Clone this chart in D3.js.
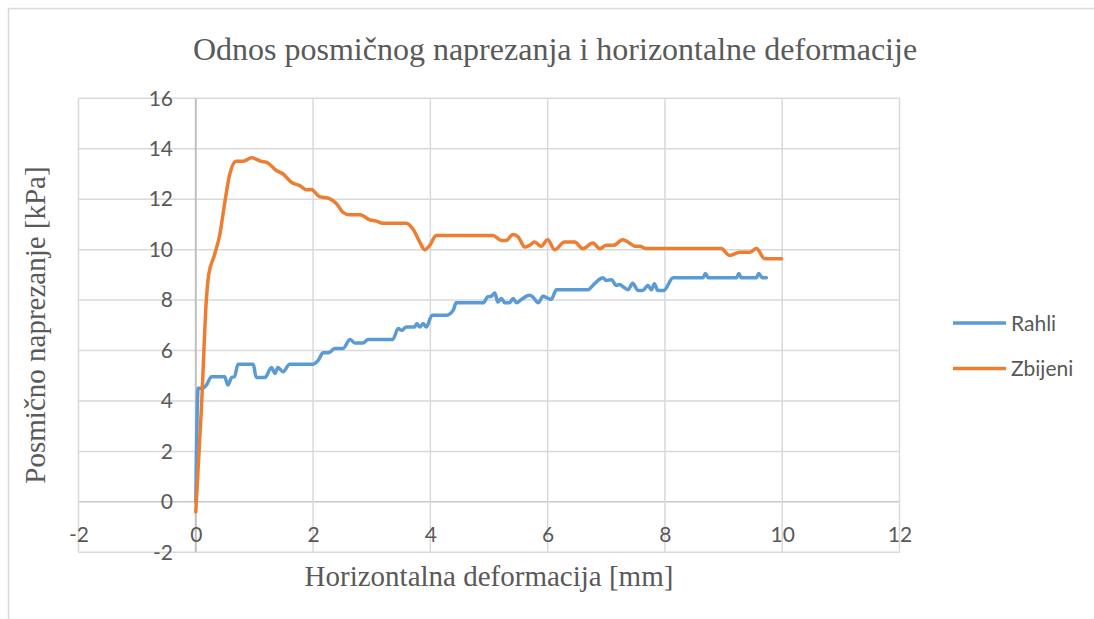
<!DOCTYPE html>
<meta charset="UTF-8">

<head>
    <title>Odnos posmičnog naprezanja i horizontalne deformacije</title>
</head>
<style>
    body {
        margin: 0;
        background: #fff;
    }

    .tick text {
        font-family: Lato, "Open Sans", sans-serif;
        font-size: 21px;
        fill: #595959;
    }

    .serif {
        font-family: "Liberation Serif", "DejaVu Serif", serif;
        fill: #595959;
    }

    .legend text {
        font-family: Lato, "Open Sans", sans-serif;
        font-size: 21px;
        fill: #595959;
    }
</style>

<body>
    <div id="chart"></div>

    <script src="https://d3js.org/d3.v7.min.js"></script>
    <script type="text/javascript">

        // 数据: Rahli (plavo)
        var rahliX = [0, 0.04, 0.12, 0.18, 0.27, 0.49, 0.55, 0.61, 0.66, 0.72, 0.98, 1.03, 1.18, 1.29, 1.35, 1.4, 1.49, 1.6,
            2.0, 2.09, 2.17, 2.26, 2.37, 2.51, 2.63, 2.71, 2.85, 2.94, 3.36, 3.45, 3.51, 3.59, 3.73, 3.77, 3.82, 3.88, 3.93,
            4.03, 4.27, 4.39, 4.44, 4.9, 4.98, 5.04, 5.1, 5.15, 5.21, 5.27, 5.35, 5.41, 5.47, 5.55, 5.69, 5.75, 5.84, 5.92,
            6.0, 6.06, 6.15, 6.69, 6.77, 6.86, 6.94, 7.0, 7.09, 7.17, 7.23, 7.28, 7.37, 7.45, 7.54, 7.62, 7.71, 7.77, 7.82,
            7.88, 7.98, 8.14, 8.65, 8.69, 8.74, 9.22, 9.26, 9.3, 9.56, 9.6, 9.66, 9.73];
        var rahliY = [0, 4.5, 4.5, 4.63, 4.96, 4.96, 4.63, 4.93, 4.96, 5.46, 5.46, 4.93, 4.93, 5.33, 5.09, 5.33, 5.16, 5.46,
            5.46, 5.62, 5.91, 5.91, 6.08, 6.08, 6.44, 6.3, 6.3, 6.44, 6.44, 6.87, 6.8, 6.93, 6.93, 7.07, 6.93, 7.07, 6.93,
            7.4, 7.4, 7.6, 7.89, 7.89, 8.13, 8.15, 8.28, 7.92, 8.06, 7.89, 7.89, 8.06, 7.89, 8.02, 8.19, 8.12, 7.89, 8.15,
            8.08, 8.03, 8.41, 8.41, 8.58, 8.78, 8.89, 8.78, 8.81, 8.58, 8.62, 8.54, 8.41, 8.67, 8.38, 8.38, 8.58, 8.41, 8.65,
            8.38, 8.38, 8.89, 8.89, 9.05, 8.89, 8.89, 9.05, 8.89, 8.89, 9.05, 8.89, 8.89];

        // 数据: Zbijeni (narančasto)
        var zbijeniX = [0, 0.1, 0.18, 0.22, 0.32, 0.41, 0.49, 0.58, 0.69, 0.81, 0.95, 1.12, 1.2, 1.38, 1.49, 1.63, 1.77, 1.89,
            1.97, 2.11, 2.26, 2.4, 2.51, 2.63, 2.8, 2.97, 3.08, 3.19, 3.59, 3.7, 3.82, 3.9, 3.99, 4.1, 5.07, 5.21, 5.29, 5.41,
            5.5, 5.61, 5.69, 5.78, 5.89, 6.0, 6.12, 6.29, 6.46, 6.6, 6.77, 6.89, 7.0, 7.12, 7.28, 7.51, 7.57, 7.68, 8.96, 9.1,
            9.28, 9.45, 9.56, 9.7, 9.99];
        var zbijeniY = [-0.4, 3.9, 8.0, 9.0, 9.8, 10.6, 11.8, 13.0, 13.5, 13.5, 13.64, 13.5, 13.47, 13.13, 13.0, 12.67, 12.54, 12.37,
            12.38, 12.1, 12.04, 11.82, 11.48, 11.38, 11.38, 11.18, 11.13, 11.05, 11.05, 10.83, 10.3, 10.0, 10.17, 10.56, 10.56, 10.36, 10.36, 10.6,
            10.5, 10.1, 10.17, 10.3, 10.13, 10.39, 10.0, 10.3, 10.3, 10.04, 10.26, 10.04, 10.17, 10.17, 10.39, 10.13, 10.13, 10.04, 10.04, 9.77,
            9.9, 9.9, 10.04, 9.64, 9.64];

        var xTicks = [-2, 0, 2, 4, 6, 8, 10, 12];
        var yTicks = [-2, 0, 2, 4, 6, 8, 10, 12, 14, 16];
        var seriesNames = ["Rahli", "Zbijeni"];
        var seriesColors = ["#5b9bd5", "#ed7d31"];

        var w = 1094;
        var h = 619;

        var svg = d3.select("#chart")
            .append("svg")
            .attr("width", w)
            .attr("height", h);

        // okvir grafikona
        svg.append("rect")
            .attr("x", 8.5)
            .attr("y", 8.5)
            .attr("width", 1100)
            .attr("height", 640)
            .attr("fill", "none")
            .attr("stroke", "#d9d9d9")
            .attr("stroke-width", 1.5);

        var x = d3.scaleLinear().domain([-2, 12]).range([78.5, 899.5]);
        var y = d3.scaleLinear().domain([-2, 16]).range([552.3, 98.3]);

        // mreža
        svg.append("g").selectAll("line")
            .data(yTicks)
            .enter()
            .append("line")
            .attr("x1", x(-2))
            .attr("x2", x(12))
            .attr("y1", function (d) { return y(d); })
            .attr("y2", function (d) { return y(d); })
            .attr("stroke", function (d) { return d === 0 ? "#c9c9c9" : "#d9d9d9"; })
            .attr("stroke-width", 1.5);

        svg.append("g").selectAll("line")
            .data(xTicks)
            .enter()
            .append("line")
            .attr("x1", function (d) { return x(d); })
            .attr("x2", function (d) { return x(d); })
            .attr("y1", y(16))
            .attr("y2", y(-2))
            .attr("stroke", function (d) { return d === 0 ? "#bfbfbf" : "#d9d9d9"; })
            .attr("stroke-width", function (d) { return d === 0 ? 2 : 1.5; });

        // osi (samo oznake), obični crtica minus kao u Excelu
        var fmt = function (d) { return String(d); };
        var xAxis = d3.axisBottom(x).tickValues(xTicks).tickFormat(fmt).tickSize(0).tickPadding(0);
        svg.append("g")
            .attr("transform", "translate(0," + y(0) + ")")
            .call(xAxis)
            .call(function (g) { g.select(".domain").remove(); })
            .selectAll("text")
            .attr("y", 40)
            .attr("dy", 0);

        var yAxis = d3.axisLeft(y).tickValues(yTicks).tickFormat(fmt).tickSize(0).tickPadding(0);
        svg.append("g")
            .attr("transform", "translate(173,0)")
            .call(yAxis)
            .call(function (g) { g.select(".domain").remove(); });

        // linije
        var xs = [rahliX, zbijeniX];
        var ys = [rahliY, zbijeniY];
        var line = d3.line()
            .x(function (d) { return x(d[0]); })
            .y(function (d) { return y(d[1]); })
            .curve(d3.curveMonotoneX);

        seriesNames.forEach(function (name, i) {
            var pts = xs[i].map(function (v, j) { return [v, ys[i][j]]; });
            svg.append("path")
                .datum(pts)
                .attr("d", line)
                .attr("fill", "none")
                .attr("stroke", seriesColors[i])
                .attr("stroke-width", 3.5)
                .attr("stroke-linejoin", "round")
                .attr("stroke-linecap", "round");
        });

        // naslovi
        svg.append("text")
            .attr("class", "serif")
            .attr("x", 555)
            .attr("y", 60)
            .attr("text-anchor", "middle")
            .style("font-size", "32px")
            .text("Odnos posmičnog naprezanja i horizontalne deformacije");

        svg.append("text")
            .attr("class", "serif")
            .attr("x", 489)
            .attr("y", 586)
            .attr("text-anchor", "middle")
            .style("font-size", "29px")
            .text("Horizontalna deformacija [mm]");

        svg.append("text")
            .attr("class", "serif")
            .attr("transform", "translate(45,325) rotate(-90)")
            .attr("text-anchor", "middle")
            .style("font-size", "29px")
            .text("Posmično naprezanje [kPa]");

        // legenda
        var legend = svg.append("g").attr("class", "legend");
        var lg = legend.selectAll("g")
            .data(seriesNames)
            .enter()
            .append("g")
            .attr("transform", function (d, i) { return "translate(953," + (323 + i * 45.5) + ")"; });
        lg.append("line")
            .attr("x1", 0)
            .attr("x2", 53)
            .attr("stroke", function (d, i) { return seriesColors[i]; })
            .attr("stroke-width", 3.5);
        lg.append("text")
            .attr("x", 58)
            .attr("dy", "0.36em")
            .text(function (d) { return d; });

    </script>
</body>

</html>
